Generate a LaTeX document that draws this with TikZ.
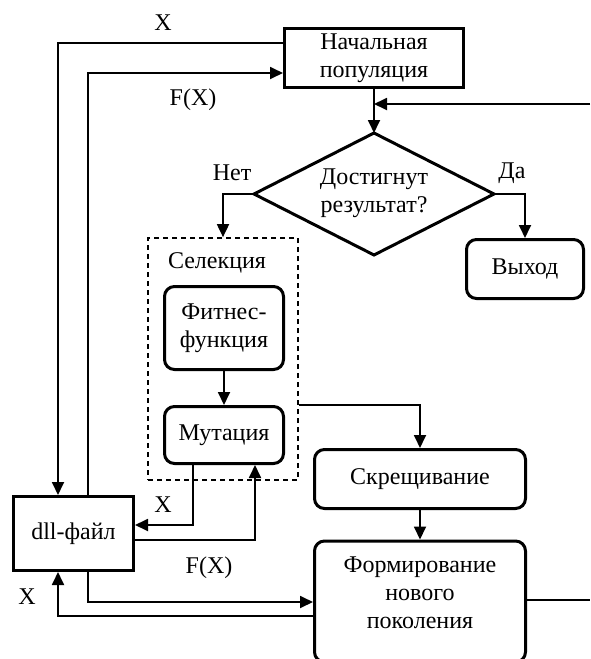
\documentclass[tikz,border=0pt]{standalone}
\usepackage{fontspec}
\setmainfont{Liberation Serif}
\usetikzlibrary{arrows.meta,calc}
\tikzset{
  txt/.style={font=\fontsize{24}{28}\selectfont, inner sep=0pt, align=center},
  boxsq/.style={draw, line width=3pt, txt},
  boxrd/.style={boxsq, rounded corners=10pt},
  plainline/.style={line width=1.8pt},
  conn/.style={plainline, -{Triangle[length=13pt,width=12pt]}},
  groupbox/.style={draw, line width=1.7pt, dash pattern=on 5pt off 4pt},
}
\begin{document}
\begin{tikzpicture}[x=1pt,y=-1pt]
\useasboundingbox (0,0) rectangle (590,659);
\clip (0,0) rectangle (590,659);
% nodes
\node[boxsq, minimum width=179pt, minimum height=59pt] (init) at (374,58) {Начальная\\популяция};
\coordinate (dT) at (374,133);
\coordinate (dR) at (494,194);
\coordinate (dB) at (374,255);
\coordinate (dL) at (254,194);
\draw[line width=3pt] (dT) -- (dR) -- (dB) -- (dL) -- cycle;
\node[txt] (dec) at (374,193) {Достигнут\\результат?};
\node[boxrd, minimum width=117pt, minimum height=59pt] (exit) at (525,269) {Выход};
\node[groupbox, minimum width=150pt, minimum height=242pt] (sel) at (223,359) {};
\node[txt] (seltxt) at (217,263) {Селекция};
\node[boxrd, minimum width=119pt, minimum height=83pt] (fit) at (224,328) {Фитнес-\\функция};
\node[boxrd, minimum width=119pt, minimum height=57pt] (mut) at (224,435) {Мутация};
\node[boxrd, minimum width=211pt, minimum height=59pt] (cross) at (420,479) {Скрещивание};
\node[boxrd, minimum width=211pt, minimum height=121pt] (form) at (420,601.5) {};
\node[txt] (formtxt) at (420,593) {Формирование\\нового\\поколения};
\node[boxsq, minimum width=120pt, minimum height=74pt] (dll) at (73.5,533.5) {dll-файл};
% connectors
\coordinate (c1) at (58,43);
\draw[conn] (c1 -| init.west) -- (c1) -- (c1 |- dll.north);
\coordinate (c2) at (88,73);
\draw[conn] (c2 |- dll.north) -- (c2) -- (c2 -| init.west);
\draw[conn] (init.south) -- (dT);
\coordinate (loopin) at (590,104);
\draw[conn] (loopin) -- (loopin -| init.south);
\coordinate (c3) at (223,194);
\draw[conn] (dL) -- (c3) -- (sel.north);
\coordinate (c4) at (525,194);
\draw[conn] (dR) -- (c4) -- (exit.north);
\draw[conn] (fit) -- (mut);
\draw[conn] (sel.east |- mut.north) -| (cross.north);
\coordinate (c6) at (193,525);
\draw[conn] (c6 |- mut.south) -- (c6) -- (c6 -| dll.east);
\coordinate (c7) at (255,540);
\draw[conn] (c7 -| dll.east) -- (c7) -- (c7 |- mut.south);
\coordinate (c8) at (88,602);
\draw[conn] (c8 |- dll.south) -- (c8) -- (c8 -| form.west);
\coordinate (c9) at (58,616);
\draw[conn] (c9 -| form.west) -- (c9) -- (c9 |- dll.south);
\draw[conn] (cross) -- (form);
\coordinate (loopout) at (590,600);
\draw[plainline] (loopout -| form.east) -- (loopout);
% labels
\node[txt] (lx1) at (163,23) {X};
\node[txt] (lf1) at (193,100) {F(X)};
\node[txt] (lno) at (232,173) {Нет};
\node[txt] (lyes) at (512,173) {Да};
\node[txt] (lx2) at (163,505) {X};
\node[txt] (lf2) at (209,568) {F(X)};
\node[txt] (lx3) at (27,597) {X};
\end{tikzpicture}
\end{document}
